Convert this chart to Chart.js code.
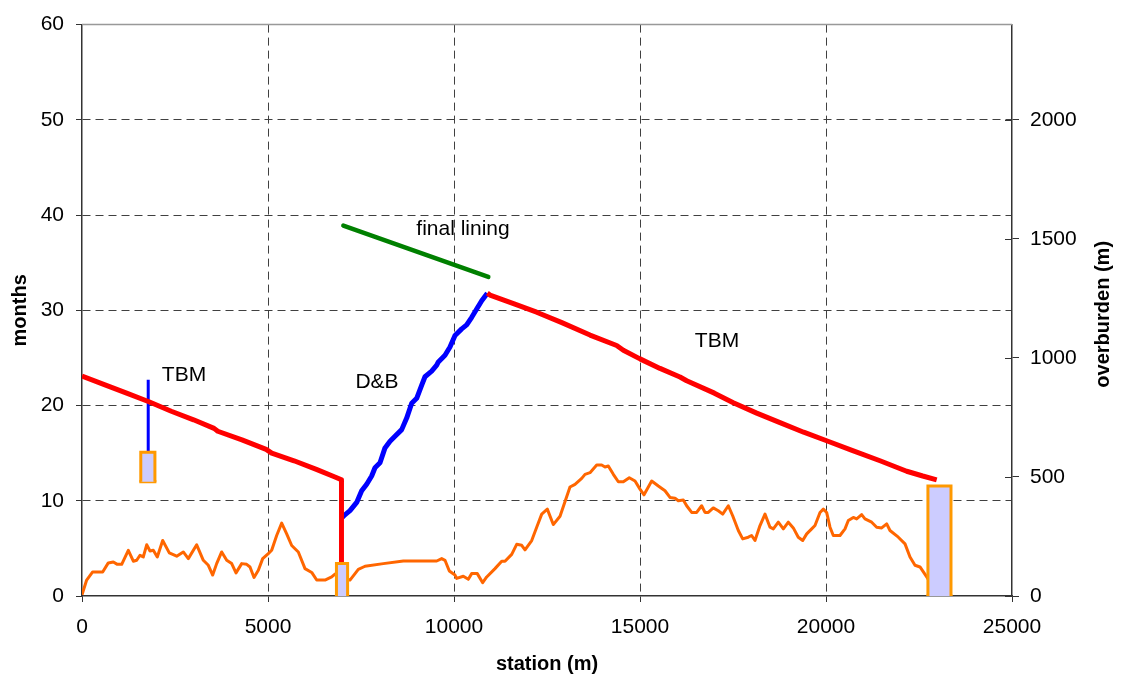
<!DOCTYPE html>
<html>
<head>
<meta charset="utf-8">
<script src="https://cdn.jsdelivr.net/npm/chart.js@4.4.1/dist/chart.umd.min.js"></script>
<style>
html,body{margin:0;padding:0;background:#ffffff;}
canvas{display:block;}
</style>
</head>
<body>
<canvas id="c" width="1121" height="682"></canvas>
<script>
// ---------- data ----------
const xTicks = [0, 5000, 10000, 15000, 20000, 25000];
const monthTicks = [0, 10, 20, 30, 40, 50, 60];
const overburdenTicks = [0, 500, 1000, 1500, 2000];

// TBM drive from west portal (months)
const tbmWestStation = [0, 600, 1200, 1800, 2400, 3000, 3550, 3650, 4300, 4950, 5100, 5700, 6300, 6800, 6975, 6975];
const tbmWestMonths  = [23.1, 22.2, 21.3, 20.4, 19.4, 18.5, 17.6, 17.3, 16.4, 15.4, 15.0, 14.2, 13.3, 12.5, 12.2, 3.6];

// Drill & blast section (months)
const dbStation = [6980, 7043, 7204, 7384, 7518, 7653, 7787, 7876, 8011, 8145, 8280, 8414, 8594, 8728, 8863, 8997, 9132, 9220, 9400, 9535, 9579, 9758, 9892, 10027, 10207, 10341, 10476, 10610, 10745, 10896];
const dbMonths  = [8.2, 8.44, 8.96, 9.83, 11.04, 11.74, 12.6, 13.47, 13.99, 15.55, 16.25, 16.77, 17.47, 18.68, 20.24, 20.76, 22.15, 23.02, 23.61, 24.24, 24.58, 25.28, 26.15, 27.36, 28.05, 28.47, 29.27, 30.14, 31.0, 31.8];

// TBM drive towards east portal (months)
const tbmEastStation = [10896, 10968, 11600, 12222, 12900, 13656, 14373, 14552, 15000, 15538, 16075, 16255, 17000, 17508, 18137, 18763, 19400, 20017, 20700, 21452, 22169, 22600, 22976];
const tbmEastMonths  = [31.8, 31.6, 30.7, 29.8, 28.7, 27.4, 26.3, 25.8, 24.9, 23.9, 23.0, 22.6, 21.3, 20.3, 19.2, 18.2, 17.2, 16.3, 15.3, 14.2, 13.1, 12.6, 12.2];

// final lining (months)
const liningStation = [7025, 10922];
const liningMonths  = [38.9, 33.5];

// shaft / access line (months)
const shaftStation = [1780, 1780];
const shaftMonths  = [15.1, 22.7];

// rectangles (station range, months range)
const boxStart  = [1580, 6840, 22740];
const boxEnd    = [1960, 7140, 23360];
const boxBottom = [12.0, 0, 0];
const boxTop    = [15.1, 3.4, 11.55];

// overburden profile (m)
const obStation = [0, 125, 287, 556, 707, 842, 950, 1067, 1245, 1380, 1470, 1559, 1648, 1739, 1828, 1917, 2024, 2169, 2347, 2545, 2723, 2858, 3083, 3261, 3396, 3513, 3620, 3755, 3890, 4024, 4140, 4293, 4427, 4516, 4624, 4740, 4857, 5008, 5099, 5233, 5368, 5502, 5637, 5815, 5995, 6175, 6309, 6532, 6712, 6801, 7204, 7428, 7608, 8100, 8638, 9535, 9669, 9758, 9874, 10027, 10072, 10250, 10385, 10475, 10626, 10771, 10879, 11102, 11282, 11371, 11551, 11685, 11820, 11909, 12089, 12223, 12358, 12508, 12669, 12850, 13118, 13253, 13433, 13522, 13656, 13836, 13970, 14059, 14148, 14283, 14417, 14552, 14712, 14866, 15000, 15108, 15314, 15493, 15672, 15806, 15941, 16030, 16164, 16254, 16389, 16523, 16657, 16747, 16836, 16970, 17105, 17223, 17374, 17491, 17643, 17760, 17911, 18000, 18091, 18226, 18360, 18495, 18584, 18718, 18853, 18987, 19121, 19255, 19374, 19481, 19615, 19704, 19839, 19928, 20017, 20108, 20196, 20376, 20511, 20600, 20734, 20824, 20958, 21048, 21228, 21362, 21497, 21632, 21720, 21944, 22124, 22258, 22392, 22527, 22707, 22750];
const obDepth   = [5, 67, 101, 101, 139, 143, 133, 133, 192, 146, 150, 171, 164, 215, 189, 192, 164, 233, 181, 167, 185, 157, 215, 150, 129, 88, 136, 185, 150, 136, 97, 136, 133, 122, 78, 108, 157, 178, 192, 254, 306, 261, 212, 185, 115, 99, 67, 67, 80, 92, 67, 112, 125, 136, 147, 147, 157, 150, 105, 88, 74, 83, 70, 94, 94, 56, 80, 115, 146, 146, 175, 217, 213, 194, 233, 289, 344, 365, 300, 335, 458, 469, 494, 511, 518, 550, 550, 542, 546, 511, 480, 480, 497, 483, 449, 425, 483, 462, 442, 414, 411, 400, 403, 379, 351, 351, 379, 351, 351, 370, 358, 344, 379, 337, 275, 240, 247, 254, 233, 296, 344, 289, 282, 310, 282, 310, 286, 247, 233, 261, 282, 296, 351, 365, 351, 289, 254, 254, 282, 317, 330, 324, 342, 324, 310, 289, 286, 303, 275, 247, 219, 164, 129, 122, 80, 70];

// text labels placed in data coordinates
const labelText    = ['TBM', 'D&B', 'final lining', 'TBM'];
const labelStation = [2742, 7930, 10242, 17070];
const labelMonths  = [23.2, 22.5, 38.5, 26.8];

// ---------- chart ----------
const FONT = '"Liberation Sans", Arial, Helvetica, sans-serif';
Chart.defaults.font.family = FONT;
Chart.defaults.color = '#000000';

const pts = (xs, ys) => xs.map((x, i) => ({x: x, y: ys[i]}));
const base = {pointRadius: 0, pointHoverRadius: 0, tension: 0, fill: false, borderJoinStyle: 'round', yAxisID: 'y'};

const datasets = [];
boxStart.forEach((s, i) => {
  datasets.push(Object.assign({}, base, {
    data: pts([s, s, boxEnd[i], boxEnd[i]], [boxBottom[i], boxTop[i], boxTop[i], boxBottom[i]]),
    borderColor: '#ff9900', borderWidth: 3, backgroundColor: '#ccccff',
    fill: {value: boxBottom[i]}, borderJoinStyle: 'miter'
  }));
  datasets.push(Object.assign({}, base, {
    data: pts([s, boxEnd[i]], [boxBottom[i], boxBottom[i]]),
    borderColor: '#ff9900', borderWidth: 3, borderCapStyle: 'square'
  }));
});
datasets.push(Object.assign({}, base, {data: pts(tbmWestStation, tbmWestMonths), borderColor: '#ff0000', borderWidth: 5}));
datasets.push(Object.assign({}, base, {data: pts(tbmEastStation, tbmEastMonths), borderColor: '#ff0000', borderWidth: 5}));
datasets.push(Object.assign({}, base, {data: pts(dbStation, dbMonths), borderColor: '#0000ff', borderWidth: 5}));
datasets.push(Object.assign({}, base, {data: pts(shaftStation, shaftMonths), borderColor: '#0000ff', borderWidth: 3}));
datasets.push(Object.assign({}, base, {data: pts(liningStation, liningMonths), borderColor: '#008000', borderWidth: 4.5, borderCapStyle: 'round'}));
datasets.push(Object.assign({}, base, {data: pts(obStation, obDepth), borderColor: '#ff6600', borderWidth: 3, yAxisID: 'y2'}));

const deco = {
  id: 'deco',
  beforeDatasetsDraw(chart) {
    const {ctx, chartArea: a} = chart;
    ctx.save();
    ctx.strokeStyle = '#999999';
    ctx.lineWidth = 1.5;
    ctx.beginPath();
    ctx.moveTo(a.left, a.top);
    ctx.lineTo(a.right, a.top);
    ctx.stroke();
    // inner tick marks of the right axis
    const y2 = chart.scales.y2;
    ctx.strokeStyle = '#333333';
    ctx.lineWidth = 1;
    overburdenTicks.forEach(v => {
      const py = Math.round(y2.getPixelForValue(v)) + 0.5;
      ctx.beginPath();
      ctx.moveTo(a.right - 7, py);
      ctx.lineTo(a.right, py);
      ctx.stroke();
    });
    ctx.restore();
  },
  afterDatasetsDraw(chart) {
    const {ctx, scales} = chart;
    ctx.save();
    ctx.font = '21px ' + FONT;
    ctx.fillStyle = '#000000';
    ctx.textAlign = 'center';
    ctx.textBaseline = 'middle';
    labelText.forEach((t, i) => {
      ctx.fillText(t, scales.x.getPixelForValue(labelStation[i]), scales.y.getPixelForValue(labelMonths[i]));
    });
    ctx.restore();
  },
  afterDraw(chart) {
    const {ctx, chartArea: a} = chart;
    ctx.save();
    ctx.font = 'bold 20px ' + FONT;
    ctx.fillStyle = '#000000';
    ctx.textAlign = 'center';
    ctx.textBaseline = 'middle';
    ctx.translate(1103, (a.top + a.bottom) / 2 + 4);
    ctx.rotate(-Math.PI / 2);
    ctx.fillText('overburden (m)', 0, 0);
    ctx.restore();
  }
};

const gridColor = (skip) => (c) => (c.tick && skip.includes(c.tick.value)) ? 'rgba(0,0,0,0)' : '#404040';

new Chart(document.getElementById('c'), {
  type: 'line',
  data: {datasets: datasets},
  plugins: [deco],
  options: {
    responsive: false,
    animation: false,
    devicePixelRatio: 1,
    layout: {padding: {top: 20, left: 0, right: 0, bottom: 0}},
    plugins: {legend: {display: false}, tooltip: {enabled: false}},
    scales: {
      x: {
        type: 'linear', position: 'bottom', min: 0, max: 25000,
        afterBuildTicks: s => { s.ticks = xTicks.map(v => ({value: v})); },
        afterFit: s => { s.height = 86; },
        ticks: {font: {size: 21}, padding: 13, maxRotation: 0, callback: v => String(v)},
        grid: {color: gridColor([0, 25000]), lineWidth: 1, tickLength: 6, tickColor: '#333333'},
        border: {color: '#333333', width: 1.5, dash: [8, 5]},
        title: {display: true, text: 'station (m)', font: {size: 20, weight: 'bold'}, padding: {top: 0, bottom: 6}}
      },
      y: {
        type: 'linear', position: 'left', min: 0, max: 60,
        afterBuildTicks: s => { s.ticks = monthTicks.map(v => ({value: v})); },
        afterFit: s => { s.width = 82; },
        ticks: {font: {size: 21}, padding: 12, callback: v => String(v)},
        grid: {color: gridColor([0, 60]), lineWidth: 1, tickLength: 6, tickColor: '#333333'},
        border: {color: '#333333', width: 1.5, dash: [8, 5]},
        title: {display: true, text: 'months', font: {size: 20, weight: 'bold'}, padding: {top: 8, bottom: 0}}
      },
      y2: {
        type: 'linear', position: 'right', min: 0, max: 2400,
        afterBuildTicks: s => { s.ticks = overburdenTicks.map(v => ({value: v})); },
        afterFit: s => { s.width = 109; },
        ticks: {font: {size: 21}, padding: 11, callback: v => String(v)},
        grid: {drawOnChartArea: false, tickLength: 7, tickColor: '#333333'},
        border: {color: '#333333', width: 1.5},
        title: {display: false}
      }
    }
  }
});
</script>
</body>
</html>
